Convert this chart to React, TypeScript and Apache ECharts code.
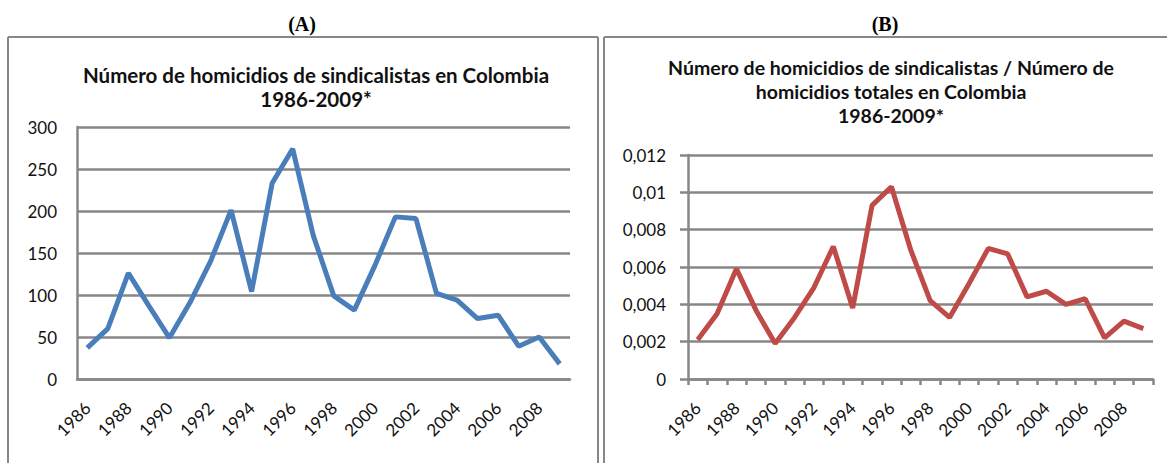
import React, { useEffect, useRef } from "react";
import * as echarts from "echarts";

const years = ["1986","1987","1988","1989","1990","1991","1992","1993","1994","1995","1996","1997","1998","1999","2000","2001","2002","2003","2004","2005","2006","2007","2008","2009"];
const homicidiosSindicalistas = [37, 60, 126, 87, 49, 91, 140, 201, 104, 233, 274, 171, 99, 82, 135, 193, 191, 102, 94, 72, 76, 39, 50, 18];
const ratioHomicidios = [0.0021, 0.0035, 0.0059, 0.0037, 0.0019, 0.0033, 0.0049, 0.0071, 0.0038, 0.0093, 0.0103, 0.0069, 0.0042, 0.0033, 0.0051, 0.0070, 0.0067, 0.0044, 0.0047, 0.0040, 0.0043, 0.0022, 0.0031, 0.0027];
const titleA = "Número de homicidios de sindicalistas en Colombia\n1986-2009*";
const titleB = "Número de homicidios de sindicalistas / Número de\nhomicidios totales en Colombia\n1986-2009*";
const panelA = "(A)";
const panelB = "(B)";

const GREY = "#878787";
const FONT = "Lato";

export default function App() {
  const ref = useRef<HTMLDivElement>(null);
  useEffect(() => {
    if (!ref.current) return;
    const chart = echarts.init(ref.current, null, { renderer: "svg" });
    const labelStyle = { color: "#111", fontFamily: FONT, fontSize: 17 };
    const fmtB = (v: number) => String(Number(v.toFixed(4))).replace(".", ",");
    chart.setOption({
      animation: false,
      backgroundColor: "#fff",
      graphic: [
        { type: "line", shape: { x1: 8, y1: 37, x2: 598, y2: 37 }, style: { stroke: GREY, lineWidth: 2 } },
        { type: "line", shape: { x1: 8, y1: 37, x2: 8, y2: 470 }, style: { stroke: GREY, lineWidth: 2 } },
        { type: "line", shape: { x1: 598, y1: 37, x2: 598, y2: 470 }, style: { stroke: GREY, lineWidth: 2 } },
        { type: "line", shape: { x1: 604, y1: 37, x2: 1170, y2: 37 }, style: { stroke: GREY, lineWidth: 2 } },
        { type: "line", shape: { x1: 604, y1: 37, x2: 604, y2: 470 }, style: { stroke: GREY, lineWidth: 2 } },
        { type: "text", x: 302, y: 24, style: { text: panelA, fontFamily: "Liberation Serif", fontWeight: "bold", fontSize: 20, fill: "#000", align: "center", verticalAlign: "middle", textAlign: "center", textVerticalAlign: "middle" } },
        { type: "text", x: 885, y: 24, style: { text: panelB, fontFamily: "Liberation Serif", fontWeight: "bold", fontSize: 20, fill: "#000", align: "center", verticalAlign: "middle", textAlign: "center", textVerticalAlign: "middle" } },
        { type: "text", x: 316, y: 63, style: { text: titleA, fontFamily: FONT, fontWeight: "bold", fontSize: 20.5, lineHeight: 24, fill: "#111", align: "center", verticalAlign: "top", textAlign: "center", textVerticalAlign: "top" } },
        { type: "text", x: 891, y: 55, style: { text: titleB, fontFamily: FONT, fontWeight: "bold", fontSize: 19.5, lineHeight: 24, fill: "#111", align: "center", verticalAlign: "top", textAlign: "center", textVerticalAlign: "top" } },
      ],
      grid: [
        { left: 77, top: 127, width: 493, height: 252 },
        { left: 688, top: 155, width: 465, height: 224 },
      ],
      xAxis: [
        {
          type: "category", gridIndex: 0, data: years, boundaryGap: true,
          axisLine: { show: true, lineStyle: { color: GREY, width: 2.5 } },
          axisTick: { show: false },
          axisLabel: { ...labelStyle, interval: 1, rotate: 45, margin: 26 },
        },
        {
          type: "category", gridIndex: 1, data: years, boundaryGap: true,
          axisLine: { show: true, lineStyle: { color: GREY, width: 2.5 } },
          axisTick: { show: true, interval: 0, length: 6, lineStyle: { color: GREY, width: 2.5 } },
          axisLabel: { ...labelStyle, interval: 1, rotate: 45, margin: 26 },
        },
      ],
      yAxis: [
        {
          type: "value", gridIndex: 0, min: 0, max: 300, interval: 50,
          axisLine: { show: true, lineStyle: { color: GREY, width: 2.5 } },
          axisTick: { show: false },
          splitLine: { show: true, lineStyle: { color: GREY, width: 2.5 } },
          axisLabel: { ...labelStyle, margin: 20 },
        },
        {
          type: "value", gridIndex: 1, min: 0, max: 0.012, interval: 0.002,
          axisLine: { show: true, lineStyle: { color: GREY, width: 2.5 } },
          axisTick: { show: true, length: 8, lineStyle: { color: GREY, width: 2.5 } },
          splitLine: { show: true, lineStyle: { color: GREY, width: 2.5 } },
          axisLabel: { ...labelStyle, margin: 22, formatter: fmtB },
        },
      ],
      series: [
        {
          type: "line", xAxisIndex: 0, yAxisIndex: 0, data: homicidiosSindicalistas,
          showSymbol: false, symbol: "none",
          lineStyle: { color: "#4a7ebb", width: 5 },
        },
        {
          type: "line", xAxisIndex: 1, yAxisIndex: 1, data: ratioHomicidios,
          showSymbol: false, symbol: "none",
          lineStyle: { color: "#be4b48", width: 5 },
        },
      ],
    });
    return () => chart.dispose();
  }, []);
  return (
    <div
      ref={ref}
      style={{ position: "absolute", left: 0, top: 0, width: 1167, height: 463, background: "#fff" }}
    />
  );
}
